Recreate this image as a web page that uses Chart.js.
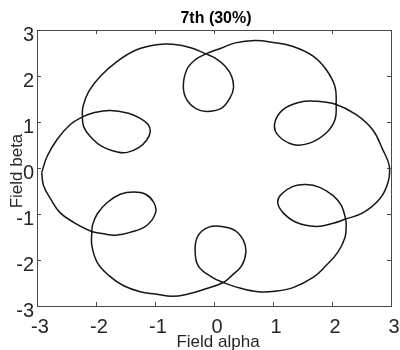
<!DOCTYPE html>
<html>
<head>
<meta charset="utf-8">
<script src="https://cdn.jsdelivr.net/npm/chart.js@4/dist/chart.umd.min.js"></script>
<style>
  html, body { margin: 0; padding: 0; background: #ffffff; }
  #wrap { width: 400px; height: 350px; }
</style>
</head>
<body>
<div id="wrap"><canvas id="c" width="400" height="350"></canvas></div>
<script>
// Flux trajectory in the stationary frame, sampled along the path
const fieldAlpha = [
  -2.92, -2.89, -2.77, -2.61, -2.38, -2.07, -1.87, -1.67, -1.42, -1.14,
  -0.99, -1.02, -1.16, -1.36, -1.59, -1.81, -1.98, -2.06, -2.07, -2.07,
  -1.98, -1.78, -1.53, -1.25, -0.99, -0.71, -0.44, -0.15, 0.16, 0.30,
  0.47, 0.54, 0.50, 0.36, 0.13, -0.10, -0.27, -0.32, -0.27, -0.03,
  0.16, 0.44, 0.75, 1.03, 1.34, 1.68, 1.90, 2.10, 2.22, 2.24,
  2.23, 2.16, 2.02, 1.79, 1.56, 1.34, 1.14, 1.08, 1.17, 1.39,
  1.73, 2.02, 2.23, 2.53, 2.81, 2.95, 2.97, 2.86, 2.69, 2.41,
  2.07, 1.73, 1.45, 1.17, 1.03, 1.08, 1.34, 1.62, 1.90, 2.05,
  2.07, 2.05, 1.90, 1.68, 1.34, 1.00, 0.69, 0.36, 0.13, -0.14,
  -0.32, -0.46, -0.52, -0.46, -0.29, -0.10, 0.13, 0.27, 0.33, 0.30,
  0.19, 0.02, -0.14, -0.38, -0.70, -0.97, -1.31, -1.64, -1.93, -2.12,
  -2.22, -2.23, -2.21, -2.10, -1.90, -1.64, -1.47, -1.27, -1.14, -1.08,
  -1.12, -1.25, -1.45, -1.76, -2.04, -2.23, -2.44, -2.66, -2.83, -2.92
];
const fieldBeta = [
  -0.10, -0.38, -0.67, -0.97, -1.18, -1.38, -1.43, -1.46, -1.40, -1.25,
  -0.97, -0.75, -0.57, -0.52, -0.57, -0.75, -1.00, -1.25, -1.38, -1.69,
  -2.05, -2.34, -2.56, -2.69, -2.74, -2.79, -2.74, -2.63, -2.49, -2.34,
  -2.12, -1.83, -1.58, -1.36, -1.27, -1.29, -1.47, -1.76, -2.12, -2.38,
  -2.49, -2.61, -2.69, -2.68, -2.60, -2.38, -2.12, -1.83, -1.51, -1.25,
  -1.11, -0.82, -0.60, -0.42, -0.36, -0.40, -0.57, -0.75, -0.97, -1.18,
  -1.27, -1.20, -1.11, -0.97, -0.67, -0.31, 0.05, 0.40, 0.83, 1.16,
  1.38, 1.45, 1.43, 1.27, 0.98, 0.72, 0.51, 0.54, 0.76, 1.05,
  1.38, 1.77, 2.14, 2.43, 2.64, 2.73, 2.77, 2.72, 2.61, 2.48,
  2.35, 2.14, 1.77, 1.48, 1.28, 1.23, 1.30, 1.52, 1.74, 1.99,
  2.21, 2.39, 2.48, 2.61, 2.69, 2.68, 2.57, 2.32, 1.99, 1.67,
  1.34, 1.11, 0.90, 0.69, 0.47, 0.35, 0.34, 0.45, 0.61, 0.79,
  0.95, 1.08, 1.19, 1.25, 1.20, 1.11, 0.94, 0.62, 0.25, -0.10
];
const tickValues = [-3, -2, -1, 0, 1, 2, 3];

const chartTitle = '7th (30%)';
const xTitle = 'Field alpha';
const yTitle = 'Field beta';

const points = fieldAlpha.map((a, i) => ({ x: a, y: fieldBeta[i] }));

const FONT = '"Liberation Sans", Arial, sans-serif';

// Boxed axes with inward tick marks, plus title and axis captions
const framePlugin = {
  id: 'frame',
  afterDraw(chart) {
    const { ctx, chartArea: a, scales } = chart;
    const xs = scales.x, ys = scales.y;
    ctx.save();
    ctx.strokeStyle = '#4a4a4a';
    ctx.lineWidth = 1;
    ctx.strokeRect(Math.round(a.left) + 0.5, Math.round(a.top) + 0.5,
                   Math.round(a.right - a.left), Math.round(a.bottom - a.top));
    const tl = 4;
    ctx.beginPath();
    tickValues.forEach(v => {
      const px = Math.round(xs.getPixelForValue(v)) + 0.5;
      ctx.moveTo(px, a.bottom); ctx.lineTo(px, a.bottom - tl);
      ctx.moveTo(px, a.top); ctx.lineTo(px, a.top + tl);
      const py = Math.round(ys.getPixelForValue(v)) + 0.5;
      ctx.moveTo(a.left, py); ctx.lineTo(a.left + tl, py);
      ctx.moveTo(a.right, py); ctx.lineTo(a.right - tl, py);
    });
    ctx.stroke();

    ctx.fillStyle = '#000000';
    ctx.textAlign = 'center';
    ctx.textBaseline = 'alphabetic';
    ctx.font = 'bold 16px ' + FONT;
    ctx.fillText(chartTitle, (a.left + a.right) / 2 + 2, 23);

    ctx.fillStyle = '#262626';
    ctx.font = '17px ' + FONT;
    ctx.fillText(xTitle, (a.left + a.right) / 2 + 4, 347);

    ctx.translate(22, (a.top + a.bottom) / 2 + 3);
    ctx.rotate(-Math.PI / 2);
    ctx.fillText(yTitle, 0, 0);
    ctx.restore();
  }
};

const tickOpts = (padding, offset) => ({
  font: { family: FONT, size: 20 },
  color: '#262626',
  padding: padding,
  labelOffset: offset,
  autoSkip: false,
  maxRotation: 0,
  minRotation: 0
});

new Chart(document.getElementById('c'), {
  type: 'scatter',
  data: {
    datasets: [{
      data: points,
      showLine: true,
      tension: 0.4,
      borderColor: '#161616',
      borderWidth: 1.5,
      pointRadius: 0,
      pointHoverRadius: 0,
      fill: false
    }]
  },
  options: {
    responsive: false,
    animation: false,
    devicePixelRatio: 1,
    layout: { padding: { top: 30, right: 9, left: 0, bottom: 0 } },
    plugins: { legend: { display: false }, tooltip: { enabled: false }, title: { display: false } },
    scales: {
      x: {
        type: 'linear',
        min: -3, max: 3,
        afterBuildTicks: s => { s.ticks = tickValues.map(v => ({ value: v })); },
        afterFit: s => { s.height = 44; s.paddingLeft = 0; s.paddingRight = 0; },
        grid: { display: false, drawTicks: false },
        border: { display: false },
        ticks: tickOpts(9, 3)
      },
      y: {
        type: 'linear',
        min: -3, max: 3,
        afterBuildTicks: s => { s.ticks = tickValues.map(v => ({ value: v })); },
        afterFit: s => { s.width = 37; s.paddingTop = 0; s.paddingBottom = 0; },
        grid: { display: false, drawTicks: false },
        border: { display: false },
        ticks: tickOpts(3, 5)
      }
    }
  },
  plugins: [framePlugin]
});
</script>
</body>
</html>
